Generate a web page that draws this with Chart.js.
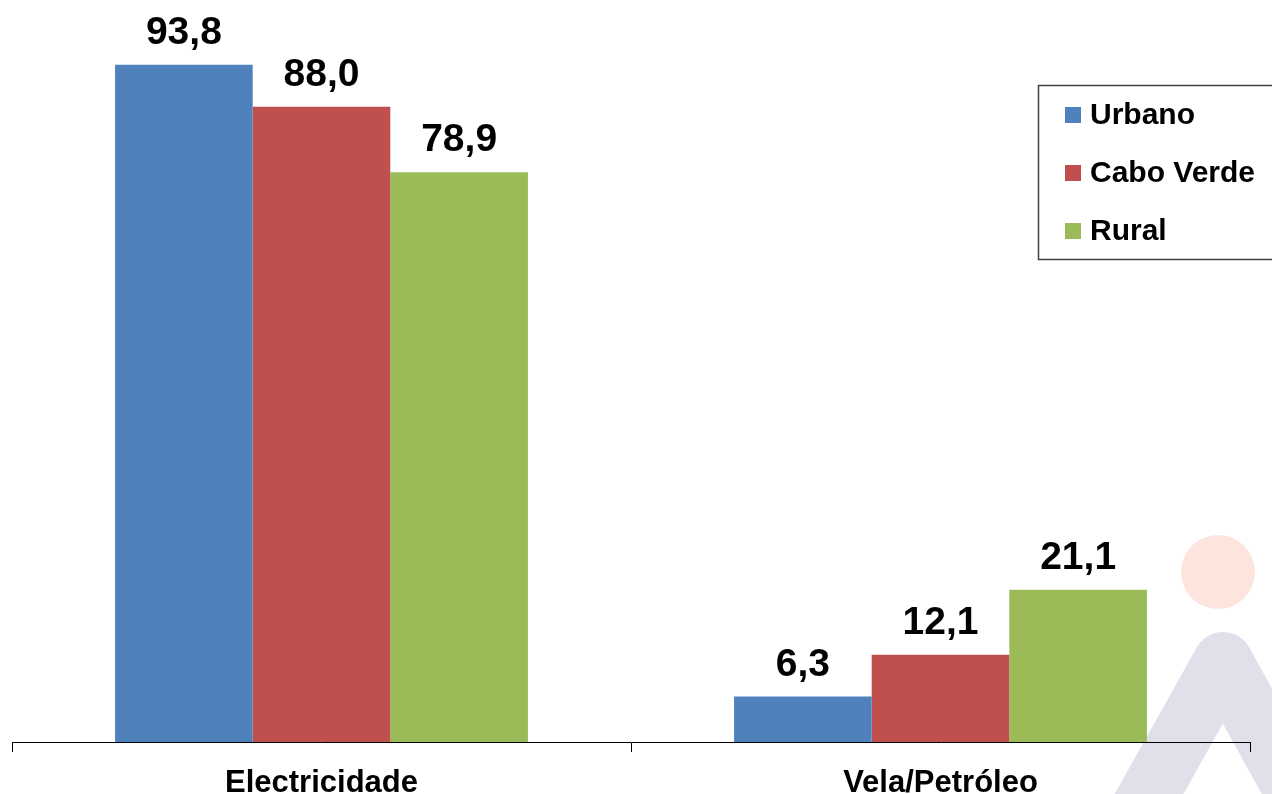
<!DOCTYPE html>
<html>
<head>
<meta charset="utf-8">
<script src="https://cdn.jsdelivr.net/npm/chart.js@4.4.1/dist/chart.umd.min.js"></script>
<style>
  html, body { margin: 0; padding: 0; background: #fff; overflow: hidden; }
  #wrap { position: relative; width: 1272px; height: 794px; }
</style>
</head>
<body>
<div id="wrap"><canvas id="chart"></canvas></div>
<script>
// dados
const categories = ['Electricidade', 'Vela/Petróleo'];
const urbano = [93.8, 6.3];
const caboVerde = [88.0, 12.1];
const rural = [78.9, 21.1];
const seriesNames = ['Urbano', 'Cabo Verde', 'Rural'];
const seriesColors = ['#4F81BD', '#C0504D', '#9BBB59'];

const FONT = '"Liberation Sans", Arial, sans-serif';

function fmt(v) {
    return v.toFixed(1).replace('.', ',');
}

// marca d'água no canto inferior direito (fundo)
const watermark = {
    id: 'watermark',
    beforeDraw(chart) {
        const c = chart.ctx;
        c.save();
        c.fillStyle = '#FDE4DC';
        c.beginPath();
        c.arc(1218, 572, 37, 0, Math.PI * 2);
        c.fill();
        c.strokeStyle = '#E0E0EB';
        c.lineWidth = 60;
        c.lineJoin = 'round';
        c.lineCap = 'butt';
        c.beginPath();
        c.moveTo(1140, 810);
        c.lineTo(1223, 662);
        c.lineTo(1305, 810);
        c.stroke();
        c.restore();
    }
};

// valores por cima das barras
const valueLabels = {
    id: 'valueLabels',
    afterDatasetsDraw(chart) {
        const c = chart.ctx;
        c.save();
        c.font = 'bold 39px ' + FONT;
        c.fillStyle = '#000';
        c.textAlign = 'center';
        c.textBaseline = 'alphabetic';
        chart.data.datasets.forEach((ds, i) => {
            chart.getDatasetMeta(i).data.forEach((bar, j) => {
                c.fillText(fmt(ds.data[j]), bar.x, bar.y - 21);
            });
        });
        c.restore();
    }
};

// legenda com moldura dentro do gráfico
const boxLegend = {
    id: 'boxLegend',
    afterDraw(chart) {
        const c = chart.ctx;
        c.save();
        c.fillStyle = '#fff';
        c.fillRect(1038, 85, 260, 175);
        c.strokeStyle = '#404040';
        c.lineWidth = 1.5;
        c.strokeRect(1038.5, 85.5, 260, 174);
        c.font = 'bold 30px ' + FONT;
        c.textBaseline = 'middle';
        c.textAlign = 'left';
        chart.data.datasets.forEach((ds, i) => {
            const y = 115 + i * 58;
            c.fillStyle = ds.backgroundColor;
            c.fillRect(1065, y - 8, 16, 16);
            c.fillStyle = '#000';
            c.fillText(ds.label, 1090, y + 1);
        });
        c.restore();
    }
};

const values = [urbano, caboVerde, rural];

new Chart(document.getElementById('chart'), {
    type: 'bar',
    data: {
        labels: categories,
        datasets: values.map((d, i) => ({
            label: seriesNames[i],
            data: d,
            backgroundColor: seriesColors[i],
            borderWidth: 0
        }))
    },
    options: {
        responsive: true,
        maintainAspectRatio: false,
        animation: false,
        layout: { padding: { top: 20, left: 12, right: 22, bottom: 0 } },
        datasets: {
            bar: { categoryPercentage: 0.667, barPercentage: 1.0 }
        },
        plugins: {
            legend: { display: false },
            tooltip: { enabled: false }
        },
        scales: {
            x: {
                grid: {
                    offset: true,
                    drawOnChartArea: false,
                    drawTicks: true,
                    tickLength: 10,
                    color: '#000'
                },
                border: { display: true, color: '#000', width: 1 },
                ticks: {
                    color: '#000',
                    padding: 13,
                    font: { family: FONT, size: 31, weight: 'bold' }
                },
                afterFit(scale) { scale.height = 52; }
            },
            y: {
                display: false,
                min: 0,
                max: 100
            }
        }
    },
    plugins: [watermark, valueLabels, boxLegend]
});
</script>
</body>
</html>
